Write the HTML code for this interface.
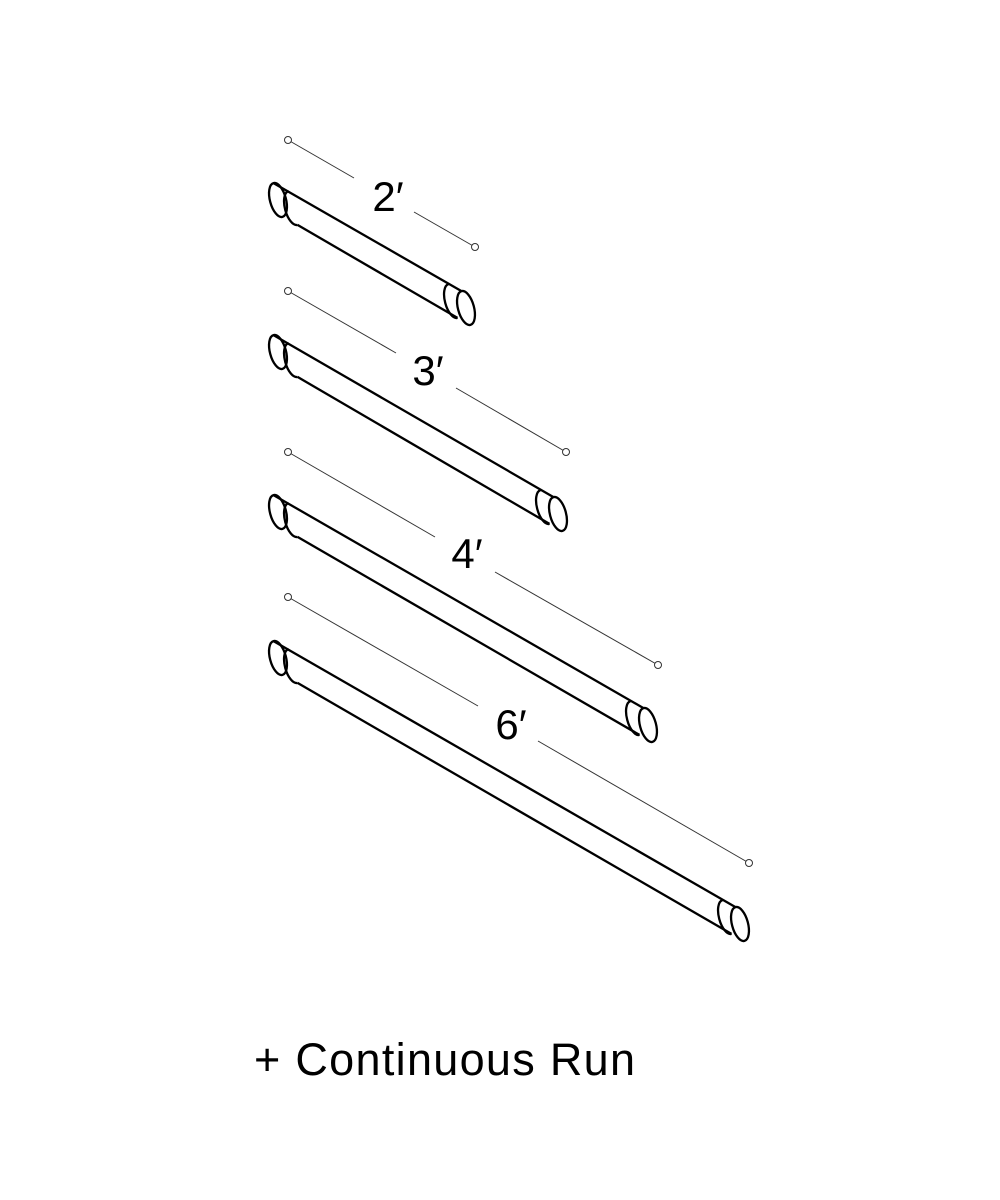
<!DOCTYPE html>
<html><head><style>body{margin:0;background:#fff}svg{display:block}</style></head><body>
<svg width="1000" height="1200" viewBox="0 0 1000 1200" xmlns="http://www.w3.org/2000/svg">
<defs>
<clipPath id="h"><rect x="-40" y="-40" width="40" height="80"/></clipPath>
<g id="lc" fill="none" stroke="#000" stroke-width="2.3">
<ellipse cx="0" cy="0" rx="8" ry="17.5" transform="rotate(-15)"/>
<ellipse cx="0" cy="0" rx="8" ry="17.5" transform="translate(15,8) rotate(-15)" clip-path="url(#h)"/>
</g>
<g id="rc" fill="none" stroke="#000" stroke-width="2.3">
<ellipse cx="0" cy="0" rx="8" ry="17.5" transform="translate(-13,-7) rotate(-15)" clip-path="url(#h)"/>
<ellipse cx="0" cy="0" rx="8" ry="17.5" transform="rotate(-15)"/>
</g>
</defs>
<g fill="none" stroke="#000" stroke-width="2.3">
<use href="#lc" x="278" y="200"/>
<line x1="273.5" y1="183.1" x2="461.5" y2="291.1"/>
<line x1="297.5" y1="224.9" x2="457.5" y2="317.9"/>
<use href="#rc" x="466" y="308"/>

<use href="#lc" x="278" y="352"/>
<line x1="273.5" y1="335.1" x2="553.5" y2="497.1"/>
<line x1="297.5" y1="376.9" x2="549.5" y2="523.9"/>
<use href="#rc" x="558" y="514"/>

<use href="#lc" x="278" y="512"/>
<line x1="273.5" y1="495.1" x2="643.5" y2="708.1"/>
<line x1="297.5" y1="536.9" x2="639.5" y2="734.9"/>
<use href="#rc" x="648" y="725"/>

<use href="#lc" x="278" y="658"/>
<line x1="273.5" y1="641.1" x2="735.5" y2="907.1"/>
<line x1="297.5" y1="682.9" x2="731.5" y2="933.9"/>
<use href="#rc" x="740" y="924"/>
</g>
<g fill="#fff" stroke="#333" stroke-width="1">
<line x1="288" y1="140" x2="354" y2="178"/><line x1="414" y1="212" x2="475" y2="247"/>
<circle cx="288" cy="140" r="3.5"/><circle cx="475" cy="247" r="3.5"/>
<line x1="288" y1="291" x2="396" y2="353"/><line x1="456" y1="388" x2="566" y2="452"/>
<circle cx="288" cy="291" r="3.5"/><circle cx="566" cy="452" r="3.5"/>
<line x1="288" y1="452" x2="435" y2="537"/><line x1="495" y1="572" x2="658" y2="665"/>
<circle cx="288" cy="452" r="3.5"/><circle cx="658" cy="665" r="3.5"/>
<line x1="288" y1="597" x2="478" y2="706"/><line x1="538" y1="741" x2="749" y2="863"/>
<circle cx="288" cy="597" r="3.5"/><circle cx="749" cy="863" r="3.5"/>
</g>
<g font-family="Liberation Sans, sans-serif" font-size="42" fill="#000" text-anchor="middle">
<text x="388" y="211">2′</text>
<text x="428" y="385">3′</text>
<text x="467" y="568">4′</text>
<text x="511" y="739">6′</text>
</g>
<text x="254" y="1075" font-family="Liberation Sans, sans-serif" font-size="45" fill="#000" textLength="381" lengthAdjust="spacing">+ Continuous Run</text>
</svg>
</body></html>
